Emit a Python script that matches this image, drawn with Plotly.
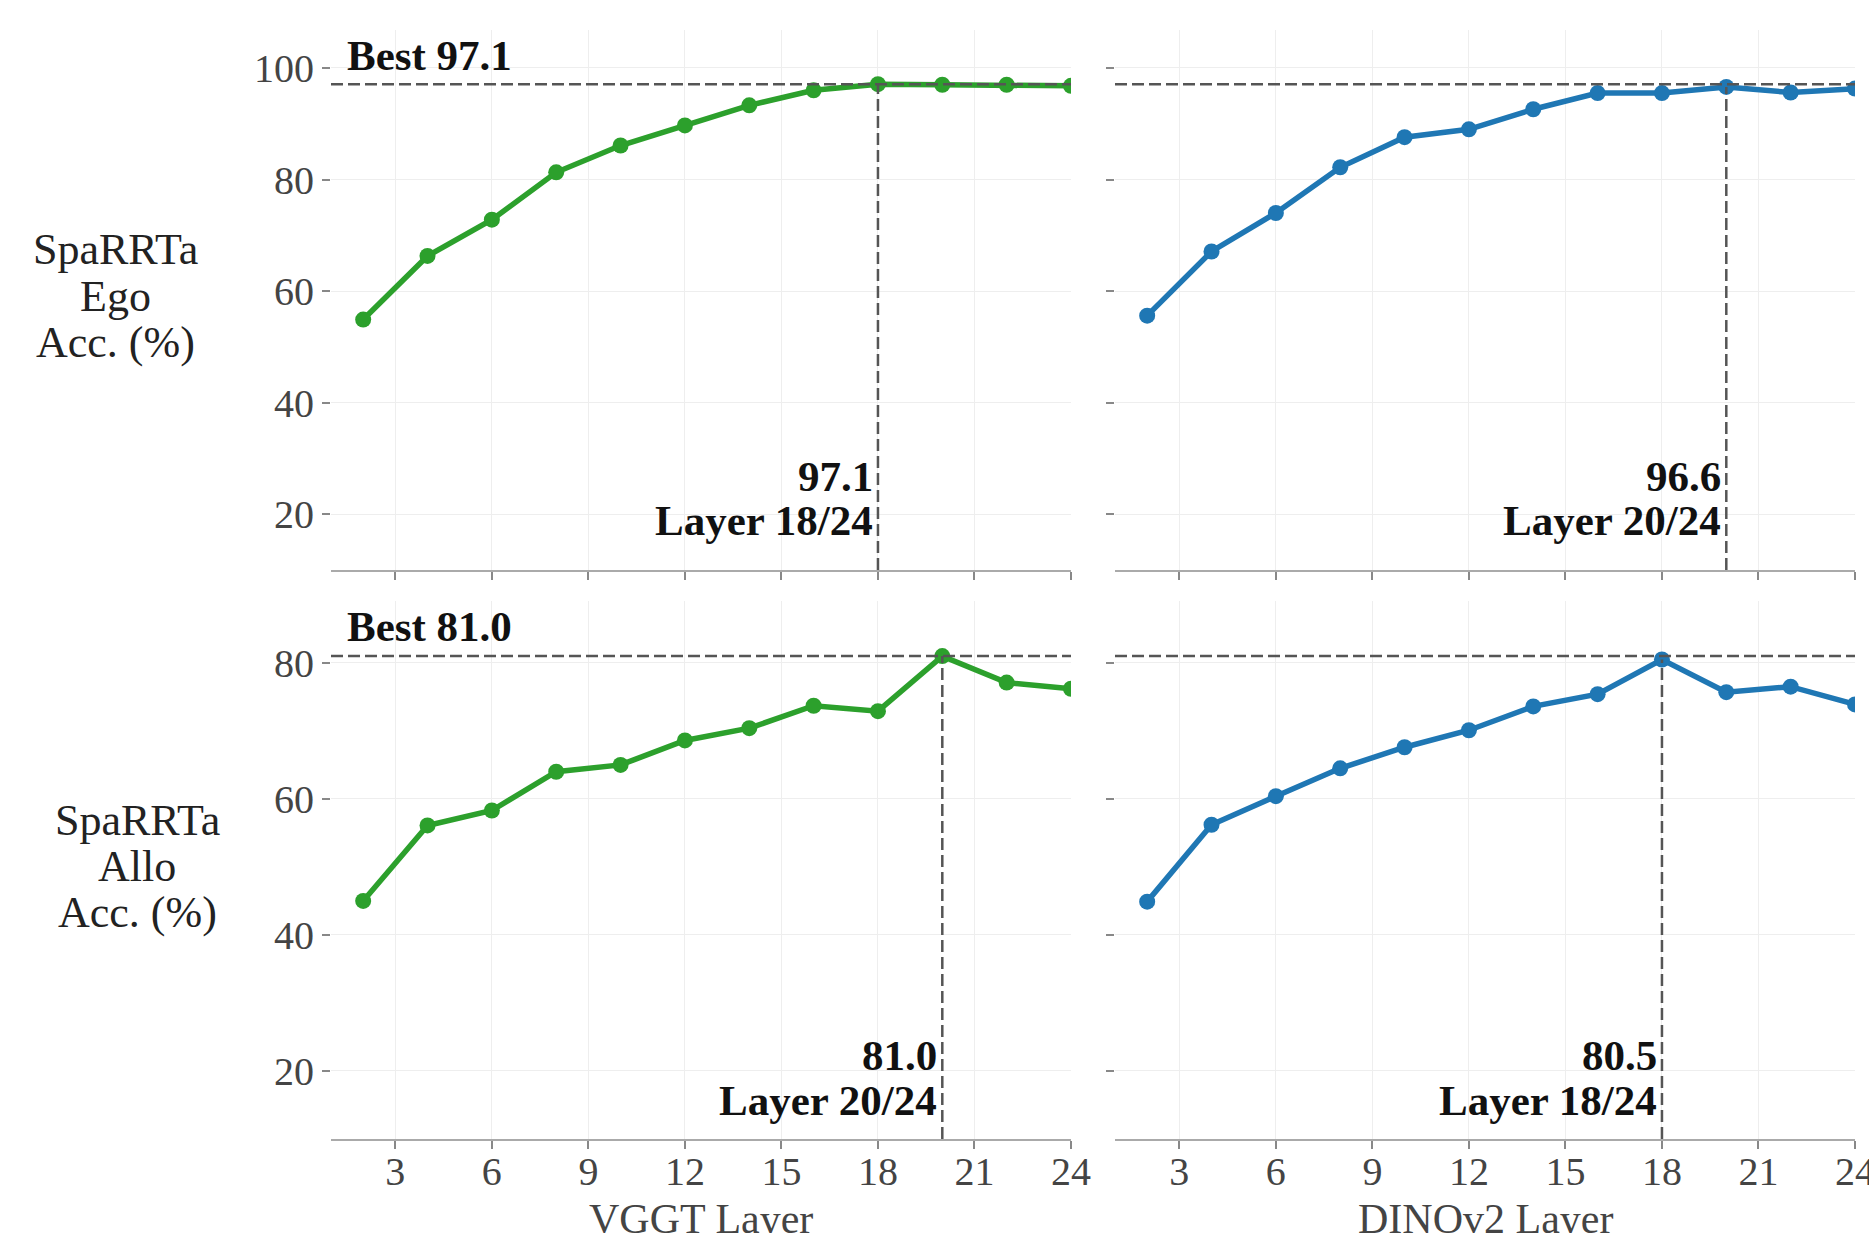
import plotly.graph_objects as go

# ---------------- data ----------------
layers = [2, 4, 6, 8, 10, 12, 14, 16, 18, 20, 22, 24]
vggt_ego = [54.9, 66.3, 72.8, 81.3, 86.1, 89.7, 93.3, 96.0, 97.1, 97.0, 97.0, 96.8]
dino_ego = [55.6, 67.1, 74.0, 82.2, 87.6, 89.0, 92.6, 95.5, 95.5, 96.6, 95.6, 96.3]
vggt_allo = [45.0, 56.1, 58.3, 64.0, 65.0, 68.6, 70.4, 73.7, 72.9, 81.0, 77.1, 76.2]
dino_allo = [44.9, 56.2, 60.4, 64.5, 67.6, 70.1, 73.6, 75.4, 80.5, 75.7, 76.5, 73.9]

x_tick_vals = [3, 6, 9, 12, 15, 18, 21, 24]
y_tick_vals = [20, 40, 60, 80, 100]
x_titles = ["VGGT Layer", "DINOv2 Layer"]
row_titles = [["SpaRRTa", "Ego", "Acc. (%)"], ["SpaRRTa", "Allo", "Acc. (%)"]]
total_layers = 24

GREEN = "#2ca02c"
BLUE = "#1f77b4"
FONT = "Liberation Serif"

# ---------------- layout geometry (pixels) ----------------
W, H = 1869, 1233
ML, MR, MT, MB = 331, 14, 30, 94
PW = W - ML - MR
PH = H - MT - MB


def px_x(px):
    return (px - ML) / PW


def px_y(py):
    return (H - MB - py) / PH


col_dom = [[0, px_x(1071)], [px_x(1115), 1]]
row_dom = [[px_y(570), 1], [0, px_y(601)]]

panels = [
    # row, col, values, color
    (0, 0, vggt_ego, GREEN),
    (0, 1, dino_ego, BLUE),
    (1, 0, vggt_allo, GREEN),
    (1, 1, dino_allo, BLUE),
]
row_best = [max(vggt_ego + dino_ego), max(vggt_allo + dino_allo)]

fig = go.Figure()
shapes = []
annotations = []

# value label vertical positions (domain fraction) per row
val_pos = [(0.174, 0.091), (0.156, 0.072)]

for i, (r, c, vals, color) in enumerate(panels):
    idx = i + 1
    xa = "x" if idx == 1 else f"x{idx}"
    ya = "y" if idx == 1 else f"y{idx}"
    best = max(vals)
    best_layer = layers[vals.index(best)]
    ymax = row_best[r] * 1.1
    ymin = 10

    fig.add_trace(go.Scatter(
        x=layers, y=vals, mode="lines+markers", xaxis=xa, yaxis=ya,
        line=dict(color=color, width=5.5),
        marker=dict(color=color, size=16),
        showlegend=False, cliponaxis=True,
    ))

    axis_common = dict(
        showgrid=True, gridcolor="#eeeeee", gridwidth=1,
        zeroline=False, ticks="outside", ticklen=8, tickwidth=2,
        tickcolor="#888888",
        tickfont=dict(family=FONT, size=40, color="#444444"),
    )
    xkey = "xaxis" if idx == 1 else f"xaxis{idx}"
    ykey = "yaxis" if idx == 1 else f"yaxis{idx}"
    xaxis = dict(
        axis_common, domain=col_dom[c], anchor=ya, range=[1, total_layers],
        tickvals=x_tick_vals, showticklabels=(r == 1),
        showline=True, linecolor="#aaaaaa", linewidth=2,
        ticklabelstandoff=-12, ticklabeloverflow="allow",
    )
    yaxis = dict(
        axis_common, domain=row_dom[r], anchor=xa, range=[ymin, ymax],
        tickvals=y_tick_vals, showticklabels=(c == 0), showline=False,
    )
    fig.update_layout({xkey: xaxis, ykey: yaxis})

    if r == 1:
        # x-axis title (placed as annotation so it can sit at the page edge)
        annotations.append(dict(
            xref=f"{xa} domain", yref="paper", x=0.5, y=px_y(1219),
            text=x_titles[c], showarrow=False, xanchor="center",
            yanchor="middle",
            font=dict(family=FONT, size=42, color="#444444")))

    dash_line = dict(color="#555555", width=2.5, dash="12px,5px")
    # horizontal best line (row best)
    shapes.append(dict(type="line", xref=f"{xa} domain", yref=ya,
                       x0=0, x1=1, y0=row_best[r], y1=row_best[r],
                       line=dash_line, layer="above"))
    # vertical best-layer line
    shapes.append(dict(type="line", xref=xa, yref=ya,
                       x0=best_layer, x1=best_layer, y0=ymin, y1=best,
                       line=dash_line, layer="above"))

    # value label
    annotations.append(dict(
        xref=xa, yref=f"{ya} domain", x=best_layer, y=val_pos[r][0],
        text=f"<b>{best:.1f}</b>", showarrow=False, xanchor="right",
        yanchor="middle", xshift=-3,
        font=dict(family=FONT, size=43, color="#111111")))
    annotations.append(dict(
        xref=xa, yref=f"{ya} domain", x=best_layer, y=val_pos[r][1],
        text=f"<b>Layer {best_layer}/{total_layers}</b>", showarrow=False,
        xanchor="right", yanchor="middle", xshift=-3,
        font=dict(family=FONT, size=43, color="#111111")))

    if c == 0:
        annotations.append(dict(
            xref=f"{xa} domain", yref=f"{ya} domain", x=0.019, y=0.953,
            text=f"<b>Best {row_best[r]:.1f}</b>", showarrow=False,
            xanchor="left", yanchor="middle",
            font=dict(family=FONT, size=43, color="#111111")))

# row titles (horizontal, left of the panels)
title_px = [(115, [250, 296, 342]), (137, [820, 866, 912])]
for r in range(2):
    cx, ys = title_px[r]
    for line, py in zip(row_titles[r], ys):
        annotations.append(dict(
            xref="paper", yref="paper", x=px_x(cx), y=px_y(py),
            text=line, showarrow=False, xanchor="center", yanchor="middle",
            font=dict(family=FONT, size=44, color="#222222")))

fig.update_layout(
    width=W, height=H,
    margin=dict(l=ML, r=MR, t=MT, b=MB, autoexpand=False),
    paper_bgcolor="white", plot_bgcolor="white",
    shapes=shapes, annotations=annotations,
    font=dict(family=FONT),
)

fig.write_html("out.html")
